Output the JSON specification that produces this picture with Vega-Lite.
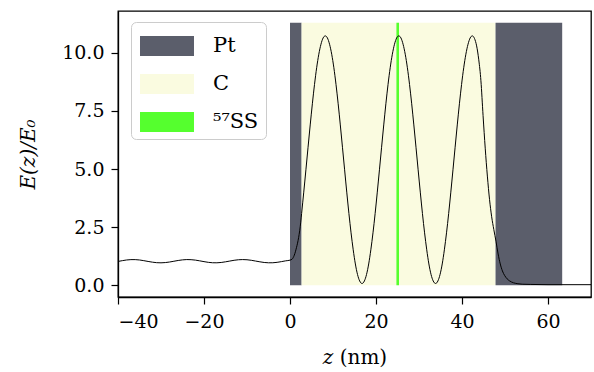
{
  "$schema": "https://vega.github.io/schema/vega-lite/v6.json",
  "width": 473,
  "height": 286,
  "autosize": {"type": "none"},
  "padding": {"left": 118, "top": 11, "right": 3, "bottom": 75},
  "background": "white",
  "config": {
    "view": {"stroke": "black", "strokeWidth": 1.3},
    "font": "DejaVu Serif",
    "axis": {
      "domainColor": "black", "domainWidth": 1.3,
      "tickColor": "black", "tickWidth": 1.2, "tickSize": 7,
      "labelFont": "DejaVu Serif", "labelFontSize": 19, "labelColor": "black",
      "titleFont": "DejaVu Serif", "titleFontSize": 20, "titleColor": "black", "titleFontWeight": "normal",
      "grid": false
    }
  },
  "datasets": {
    "regions": [
      {"material": "Pt", "z0": 0, "z1": 2.7},
      {"material": "C", "z0": 2.7, "z1": 47.8},
      {"material": "Pt", "z0": 47.8, "z1": 63.3},
      {"material": "⁵⁷SS", "z0": 24.75, "z1": 25.35}
    ],
    "curve": [
      {"z": -40, "E": 1.029}, {"z": -39, "E": 1.063}, {"z": -38, "E": 1.092}, {"z": -37, "E": 1.108},
      {"z": -36, "E": 1.108}, {"z": -35, "E": 1.092}, {"z": -34, "E": 1.063}, {"z": -33, "E": 1.029},
      {"z": -32, "E": 0.998}, {"z": -31, "E": 0.976}, {"z": -30, "E": 0.970}, {"z": -29, "E": 0.981},
      {"z": -28, "E": 1.005}, {"z": -27, "E": 1.038}, {"z": -26, "E": 1.071}, {"z": -25, "E": 1.097},
      {"z": -24, "E": 1.110}, {"z": -23, "E": 1.105}, {"z": -22, "E": 1.086}, {"z": -21, "E": 1.055},
      {"z": -20, "E": 1.021}, {"z": -19, "E": 0.991}, {"z": -18, "E": 0.973}, {"z": -17, "E": 0.971},
      {"z": -16, "E": 0.985}, {"z": -15, "E": 1.013}, {"z": -14, "E": 1.046}, {"z": -13, "E": 1.079},
      {"z": -12, "E": 1.102}, {"z": -11, "E": 1.110}, {"z": -10, "E": 1.102}, {"z": -9, "E": 1.079},
      {"z": -8, "E": 1.046}, {"z": -7, "E": 1.013}, {"z": -6, "E": 0.985}, {"z": -5, "E": 0.971},
      {"z": -4, "E": 0.973}, {"z": -3, "E": 0.991}, {"z": -2, "E": 1.021}, {"z": -1, "E": 1.055},
      {"z": 0, "E": 1.085}, {"z": 0.5, "E": 1.13}, {"z": 1.0, "E": 1.3}, {"z": 1.5, "E": 1.62},
      {"z": 2.0, "E": 2.05}, {"z": 2.5, "E": 2.72}, {"z": 2.7, "E": 3.09},
      {"z": 3.2, "E": 4.01}, {"z": 3.7, "E": 4.97}, {"z": 4.2, "E": 5.94}, {"z": 4.7, "E": 6.90},
      {"z": 5.2, "E": 7.81}, {"z": 5.7, "E": 8.64}, {"z": 6.2, "E": 9.36}, {"z": 6.7, "E": 9.94},
      {"z": 7.2, "E": 10.37}, {"z": 7.7, "E": 10.64}, {"z": 8.2, "E": 10.73}, {"z": 8.7, "E": 10.64},
      {"z": 9.2, "E": 10.37}, {"z": 9.7, "E": 9.94}, {"z": 10.2, "E": 9.36}, {"z": 10.7, "E": 8.64},
      {"z": 11.2, "E": 7.81}, {"z": 11.7, "E": 6.90}, {"z": 12.2, "E": 5.94}, {"z": 12.7, "E": 4.97},
      {"z": 13.2, "E": 4.01}, {"z": 13.7, "E": 3.09}, {"z": 14.2, "E": 2.26}, {"z": 14.7, "E": 1.53},
      {"z": 15.2, "E": 0.92}, {"z": 15.7, "E": 0.47}, {"z": 16.2, "E": 0.19}, {"z": 16.75, "E": 0.08},
      {"z": 17.3, "E": 0.19}, {"z": 17.8, "E": 0.47}, {"z": 18.3, "E": 0.92}, {"z": 18.8, "E": 1.53},
      {"z": 19.3, "E": 2.26}, {"z": 19.8, "E": 3.09}, {"z": 20.3, "E": 4.01}, {"z": 20.8, "E": 4.97},
      {"z": 21.3, "E": 5.94}, {"z": 21.8, "E": 6.90}, {"z": 22.3, "E": 7.81}, {"z": 22.8, "E": 8.64},
      {"z": 23.3, "E": 9.36}, {"z": 23.8, "E": 9.94}, {"z": 24.3, "E": 10.37}, {"z": 24.8, "E": 10.64},
      {"z": 25.3, "E": 10.73}, {"z": 25.8, "E": 10.64}, {"z": 26.3, "E": 10.37}, {"z": 26.8, "E": 9.94},
      {"z": 27.3, "E": 9.36}, {"z": 27.8, "E": 8.64}, {"z": 28.3, "E": 7.81}, {"z": 28.8, "E": 6.90},
      {"z": 29.3, "E": 5.94}, {"z": 29.8, "E": 4.97}, {"z": 30.3, "E": 4.01}, {"z": 30.8, "E": 3.09},
      {"z": 31.3, "E": 2.26}, {"z": 31.8, "E": 1.53}, {"z": 32.3, "E": 0.92}, {"z": 32.8, "E": 0.47},
      {"z": 33.3, "E": 0.19}, {"z": 33.85, "E": 0.08},
      {"z": 34.4, "E": 0.19}, {"z": 34.9, "E": 0.47}, {"z": 35.4, "E": 0.92}, {"z": 35.9, "E": 1.53},
      {"z": 36.4, "E": 2.26}, {"z": 36.9, "E": 3.09}, {"z": 37.4, "E": 4.01}, {"z": 37.9, "E": 4.97},
      {"z": 38.4, "E": 5.94}, {"z": 38.9, "E": 6.90}, {"z": 39.4, "E": 7.81}, {"z": 39.9, "E": 8.64},
      {"z": 40.4, "E": 9.36}, {"z": 40.9, "E": 9.94}, {"z": 41.4, "E": 10.37}, {"z": 41.9, "E": 10.64},
      {"z": 42.4, "E": 10.73}, {"z": 42.9, "E": 10.62}, {"z": 43.4, "E": 10.3}, {"z": 43.9, "E": 9.7},
      {"z": 44.4, "E": 8.8}, {"z": 44.9, "E": 7.3}, {"z": 45.4, "E": 5.9}, {"z": 45.9, "E": 4.7},
      {"z": 46.4, "E": 3.7}, {"z": 46.9, "E": 2.95}, {"z": 47.4, "E": 2.4}, {"z": 47.9, "E": 1.9},
      {"z": 48.4, "E": 1.35}, {"z": 48.9, "E": 0.92}, {"z": 49.4, "E": 0.62}, {"z": 49.9, "E": 0.43},
      {"z": 50.5, "E": 0.28}, {"z": 51, "E": 0.2}, {"z": 52, "E": 0.11}, {"z": 53, "E": 0.07},
      {"z": 54, "E": 0.05}, {"z": 56, "E": 0.04}, {"z": 60, "E": 0.03}, {"z": 70, "E": 0.03}
    ]
  },
  "layer": [
    {
      "data": {"name": "regions"},
      "mark": {"type": "rect"},
      "encoding": {
        "x": {"field": "z0", "type": "quantitative",
              "scale": {"domain": [-40, 70], "nice": false, "zero": false},
              "axis": {"values": [-40, -20, 0, 20, 40, 60], "format": "d", "title": "𝑧 (nm)",
                       "labelFont": "DejaVu Serif", "labelFontSize": 19,
                       "titleFont": "DejaVu Serif",
                       "labelPadding": 8, "titleY": 60, "titleBaseline": "middle"}},
        "x2": {"field": "z1"},
        "y": {"datum": 0, "type": "quantitative",
              "scale": {"domain": [-0.5, 11.8], "nice": false, "zero": false},
              "axis": {"values": [0, 2.5, 5, 7.5, 10], "format": ".1f", "title": "E(z)/E₀",
                       "labelFont": "DejaVu Serif", "labelFontSize": 19,
                       "titleFont": "DejaVu Serif", "titleFontStyle": "italic",
                       "labelPadding": 7, "titleX": -80}},
        "y2": {"datum": 11.3},
        "color": {"field": "material", "type": "nominal",
                  "scale": {"domain": ["Pt", "C", "⁵⁷SS"], "range": ["#5b5e6b", "#fafbe0", "#55ff2e"]},
                  "legend": {"orient": "none", "legendX": 13, "legendY": 11, "title": null,
                             "symbolType": "M-1.588,-0.588H1.588V0.588H-1.588Z", "symbolSize": 1156,
                             "padding": 7, "rowPadding": 11, "fillColor": "white", "strokeColor": "#cccccc",
                             "cornerRadius": 5, "symbolOffset": 12, "labelOffset": 29,
                             "labelExpr": "datum.label + '\u00a0\u00a0'",
                             "labelFontSize": 21, "labelFont": "DejaVu Serif", "labelColor": "black",
                             "symbolStrokeWidth": 0, "symbolOpacity": 1}}
      }
    },
    {
      "data": {"name": "curve"},
      "mark": {"type": "line", "color": "black", "strokeWidth": 1, "interpolate": "monotone"},
      "encoding": {
        "x": {"field": "z", "type": "quantitative"},
        "y": {"field": "E", "type": "quantitative"}
      }
    }
  ]
}
